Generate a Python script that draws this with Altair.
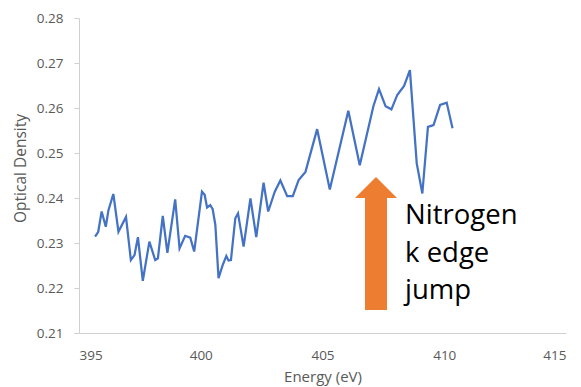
import altair as alt
import pandas as pd

# Spectrum
energy = [395.66, 395.79, 395.93, 396.10, 396.21, 396.41, 396.62, 396.93, 397.13, 397.28,
          397.42, 397.62, 397.89, 398.13, 398.24, 398.44, 398.63, 398.95, 399.13, 399.36,
          399.57, 399.73, 400.05, 400.16, 400.26, 400.39, 400.49, 400.60, 400.73, 400.90,
          401.05, 401.14, 401.24, 401.42, 401.53, 401.76, 402.04, 402.28, 402.58, 402.77,
          403.04, 403.27, 403.55, 403.78, 404.02, 404.30, 404.78, 405.30, 406.06, 406.53,
          407.09, 407.32, 407.59, 407.83, 408.07, 408.35, 408.59, 408.87, 409.10, 409.33,
          409.56, 409.83, 410.10, 410.34]
od = [0.2314, 0.2325, 0.2370, 0.2336, 0.2373, 0.2409, 0.2325, 0.2358, 0.2262, 0.2273,
      0.2313, 0.2216, 0.2303, 0.2262, 0.2266, 0.2360, 0.2278, 0.2397, 0.2288, 0.2316,
      0.2312, 0.2281, 0.2414, 0.2407, 0.2379, 0.2384, 0.2375, 0.2340, 0.2222, 0.2251,
      0.2271, 0.2261, 0.2262, 0.2355, 0.2366, 0.2292, 0.2399, 0.2313, 0.2434, 0.2370,
      0.2414, 0.2439, 0.2404, 0.2404, 0.2440, 0.2458, 0.2553, 0.2419, 0.2594, 0.2473,
      0.2604, 0.2642, 0.2604, 0.2597, 0.2629, 0.2649, 0.2684, 0.2477, 0.2410, 0.2558,
      0.2562, 0.2607, 0.2612, 0.2555]

x_ticks = [395, 400, 405, 410, 415]
y_ticks = [0.21, 0.22, 0.23, 0.24, 0.25, 0.26, 0.27, 0.28]

# Annotation (arrow + label) anchored in data units
arrow_shaft_x = [406.745, 407.649]
arrow_shaft_y = [0.2151, 0.2402]
arrow_head_x = [407.197]
arrow_head_y = [0.24233]
label_lines = ["Nitrogen", "k edge", "jump"]
label_x = [408.39]
label_y = [0.23422]

GREY = "#595959"
FONT = "Open Sans"

df = pd.DataFrame({"energy": energy, "od": od})

x_scale = alt.Scale(domain=[395, 415], nice=False, zero=False)
y_scale = alt.Scale(domain=[0.21, 0.28], nice=False, zero=False)

line = alt.Chart(df).mark_line(color="#4472C4", strokeWidth=2.25).encode(
    x=alt.X("energy:Q", scale=x_scale,
            axis=alt.Axis(title="Energy (eV)", values=x_ticks, format="d", grid=False,
                          ticks=False, labelPadding=15, labelFontSize=13.5,
                          labelColor=GREY, labelFont=FONT, domainColor="#D0D0D0",
                          titleFont=FONT, titleFontSize=15, titleFontWeight="normal",
                          titleColor=GREY, titleY=48, titleBaseline="alphabetic")),
    y=alt.Y("od:Q", scale=y_scale,
            axis=alt.Axis(title="Optical Density", values=y_ticks, format=".2f", grid=False,
                          ticks=True, tickSize=5, tickColor="#D0D0D0", labelPadding=11,
                          labelFontSize=13.5, labelColor=GREY, labelFont=FONT,
                          domainColor="#D0D0D0", titleFont=FONT, titleFontSize=15.5,
                          titleFontWeight="normal", titleColor=GREY, titleX=-59, titleY=150,
                          titleBaseline="middle", titleAngle=-90)),
)

shaft_df = pd.DataFrame({"x": [arrow_shaft_x[0]], "x2": [arrow_shaft_x[1]],
                         "y": [arrow_shaft_y[0]], "y2": [arrow_shaft_y[1]]})
shaft = alt.Chart(shaft_df).mark_rect(color="#ED7D31").encode(
    x=alt.X("x:Q", scale=x_scale), x2="x2:Q",
    y=alt.Y("y:Q", scale=y_scale), y2="y2:Q")

head_df = pd.DataFrame({"x": arrow_head_x, "y": arrow_head_y})
head = alt.Chart(head_df).mark_point(
    shape="M-1,0.5L0,-0.5L1,0.5Z", filled=True, size=1764, color="#ED7D31", opacity=1
).encode(x=alt.X("x:Q", scale=x_scale), y=alt.Y("y:Q", scale=y_scale))

label_df = pd.DataFrame({"x": label_x, "y": label_y, "t": [label_lines]})
label = alt.Chart(label_df).mark_text(
    align="left", baseline="alphabetic", font=FONT, fontSize=27.5, lineHeight=37.5,
    color="#000000"
).encode(x=alt.X("x:Q", scale=x_scale), y=alt.Y("y:Q", scale=y_scale), text="t")

chart = alt.layer(line, shaft, head, label).properties(
    width=487, height=315,
    autosize=alt.AutoSizeParams(type="none"),
    padding={"left": 79, "top": 18, "right": 15, "bottom": 54},
    background="white",
).configure_view(stroke=None)

chart.save("out.html", embed_options={"renderer": "svg", "actions": False})
